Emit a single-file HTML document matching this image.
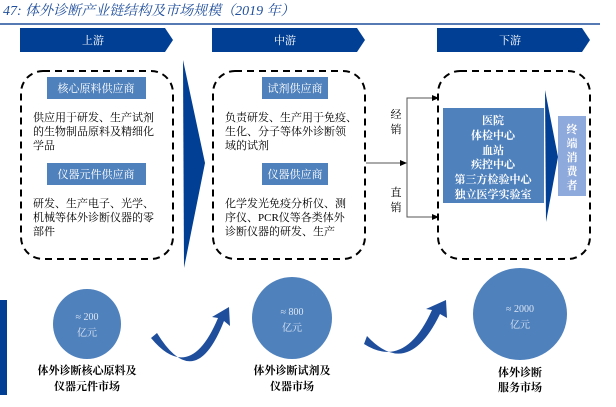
<!DOCTYPE html>
<html><head><meta charset="utf-8"><style>
body{margin:0;background:#fff;}
svg text{font-family:"Liberation Serif","Noto Serif CJK SC","Noto Sans CJK SC",serif;}
</style></head><body>
<svg width="616" height="402" viewBox="0 0 616 402" xmlns="http://www.w3.org/2000/svg">
<text x="3" y="15" font-size="14" fill="#1f4e9c" font-style="italic">47:  体外诊断产业链结构及市场规模（2019 年）</text>
<line x1="0" y1="24" x2="600" y2="24" stroke="#1f4e9c" stroke-width="1.5"/>
<polygon points="20,28 165,28 173,40 165,52 20,52" fill="#003f94"/>
<text x="93" y="44" font-size="11" fill="#fff" text-anchor="middle">上游</text>
<polygon points="212,28 357,28 365,40 357,52 212,52" fill="#003f94"/>
<text x="285" y="44" font-size="11" fill="#fff" text-anchor="middle">中游</text>
<polygon points="437,28 582,28 590,40 582,52 437,52" fill="#003f94"/>
<text x="510" y="44" font-size="11" fill="#fff" text-anchor="middle">下游</text>
<polygon points="183,60 205,163 184,268" fill="#003f94"/>
<g fill="none" stroke="#000" stroke-width="2" stroke-dasharray="7,5">
<rect x="21" y="71" width="152" height="188" rx="22"/>
<rect x="213" y="71" width="152" height="188" rx="22"/>
<rect x="438" y="71" width="152" height="188" rx="22"/>
</g>
<g font-size="11" fill="#fff" text-anchor="middle">
<rect x="47" y="77" width="99" height="22" fill="#4f81bd"/><text x="96" y="92">核心原料供应商</text>
<rect x="47" y="163" width="99" height="22" fill="#4f81bd"/><text x="96" y="178">仪器元件供应商</text>
<rect x="262" y="77" width="66" height="22" fill="#4f81bd"/><text x="295" y="92">试剂供应商</text>
<rect x="262" y="163" width="66" height="22" fill="#4f81bd"/><text x="295" y="178">仪器供应商</text>
</g>
<g font-size="11" fill="#000">
<text x="33" y="121">供应用于研发、生产试剂</text>
<text x="33" y="135">的生物制品原料及精细化</text>
<text x="33" y="149">学品</text>
<text x="33" y="207">研发、生产电子、光学、</text>
<text x="33" y="221">机械等体外诊断仪器的零</text>
<text x="33" y="235">部件</text>
<text x="225" y="121">负责研发、生产用于免疫、</text>
<text x="225" y="135">生化、分子等体外诊断领</text>
<text x="225" y="149">域的试剂</text>
<text x="225" y="207">化学发光免疫分析仪、测</text>
<text x="225" y="221">序仪、PCR仪等各类体外</text>
<text x="225" y="235">诊断仪器的研发、生产</text>
</g>
<g stroke="#555" stroke-width="1" fill="none">
<line x1="366" y1="163" x2="403" y2="163"/>
<polyline points="437,98 407,98 407,217 437,217"/>
</g>
<polygon points="400,160 407,163 400,166" fill="#000"/>
<polygon points="432,95 439,98 432,101" fill="#000"/>
<polygon points="432,214 439,217 432,220" fill="#000"/>
<g font-size="11" fill="#000" text-anchor="middle">
<text x="396" y="118">经</text><text x="396" y="133">销</text>
<text x="396" y="196">直</text><text x="396" y="211">销</text>
</g>
<rect x="443" y="108" width="101" height="95" fill="#4f81bd"/>
<g font-size="11" fill="#fff" text-anchor="middle" font-weight="bold">
<text x="493" y="124">医院</text><text x="493" y="139">体检中心</text><text x="493" y="154">血站</text>
<text x="493" y="168">疾控中心</text><text x="493" y="183">第三方检验中心</text><text x="493" y="198">独立医学实验室</text>
</g>
<polygon points="545,90 558,157 546,222" fill="#003f94"/>
<rect x="558" y="116" width="28" height="80" fill="#8ea9db"/>
<g font-size="11" fill="#fff" text-anchor="middle" font-weight="bold">
<text x="572" y="133">终</text><text x="572" y="147">端</text><text x="572" y="161">消</text><text x="572" y="175">费</text><text x="572" y="189">者</text>
</g>
<rect x="0" y="300" width="7" height="95" fill="#003f94"/>
<ellipse cx="87" cy="324" rx="34" ry="35" fill="#4f81bd"/>
<ellipse cx="292" cy="318" rx="40" ry="41" fill="#4f81bd"/>
<ellipse cx="520" cy="314" rx="47" ry="46" fill="#4f81bd"/>
<g font-size="10" fill="#dde6f3" text-anchor="middle">
<text x="87" y="320">≈ 200</text><text x="87" y="336">亿元</text>
<text x="292" y="315">≈ 800</text><text x="292" y="331">亿元</text>
<text x="520" y="312">≈ 2000</text><text x="520" y="328">亿元</text>
</g>
<g font-size="11" fill="#000" text-anchor="middle" font-weight="bold">
<text x="87" y="374">体外诊断核心原料及</text><text x="87" y="390">仪器元件市场</text>
<text x="292" y="374">体外诊断试剂及</text><text x="292" y="390">仪器市场</text>
<text x="520" y="376">体外诊断</text><text x="520" y="391">服务市场</text>
</g>
<path d="M151,338 Q190,385 218,318 L212,317 L229,307 L230,326 L224,321 Q195,395 157,333 Z" fill="#1f4e9c"/>
<path d="M364,344 Q405,370 432,310 L426,309 L446,300 L447,318 L440,314 Q408,380 367,336 Z" fill="#1f4e9c"/>
</svg>
</body></html>
